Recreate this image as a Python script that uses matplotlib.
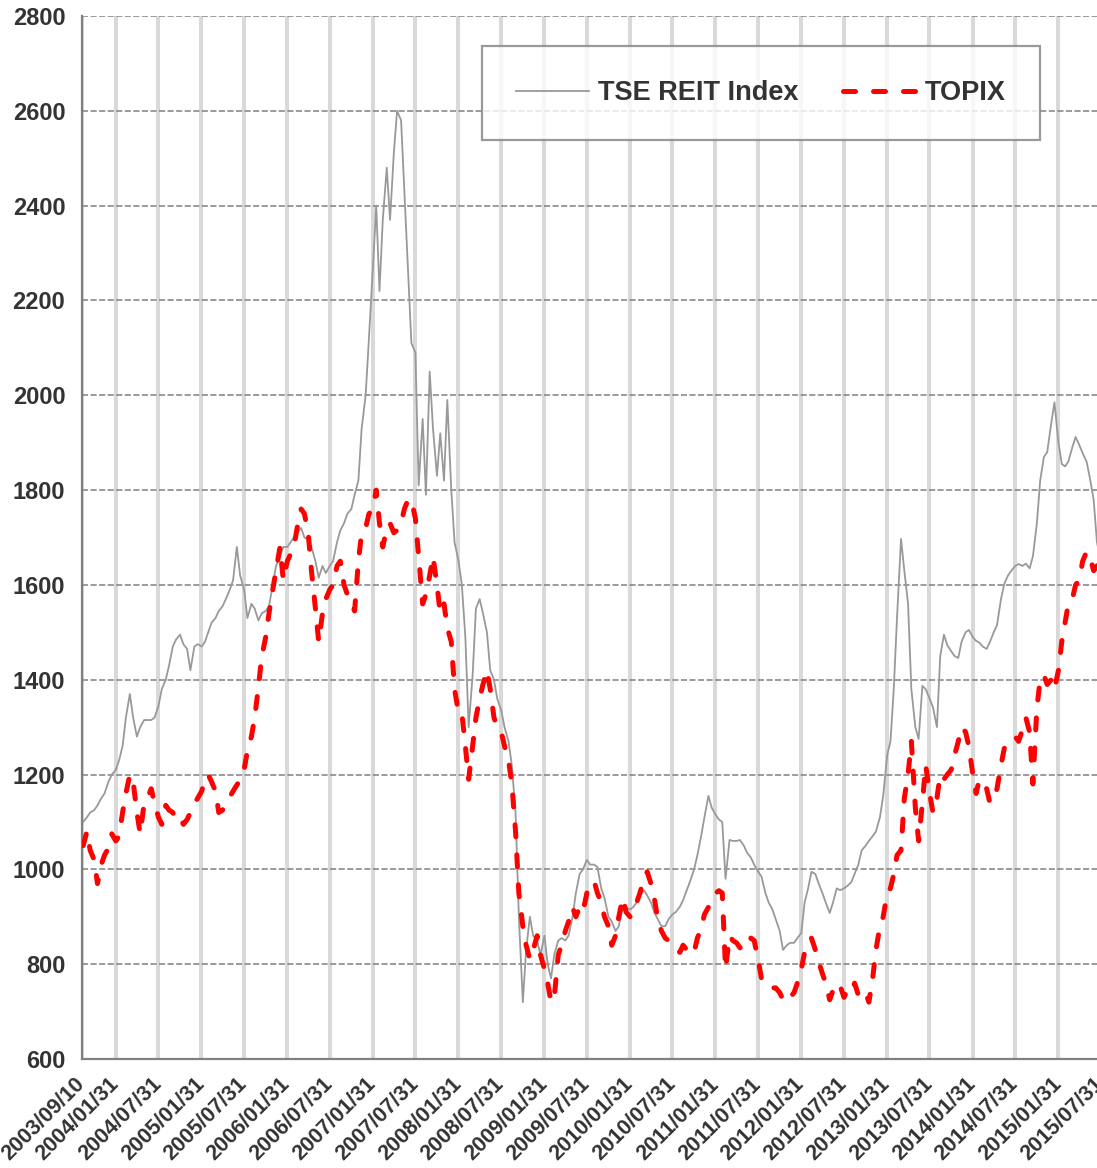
import matplotlib
matplotlib.use("Agg")
import matplotlib.pyplot as plt
import pandas as pd

# semi-monthly readings (1st and 15th of each month)
reit_2003 = [1100, 1110, 1120, 1125, 1135, 1150, 1160]
reit_2004 = [1185, 1200, 1210, 1230, 1260, 1320, 1370, 1320, 1280, 1300, 1315, 1315,
             1315, 1320, 1345, 1380, 1400, 1430, 1470, 1485, 1495, 1475, 1465, 1420]
reit_2005 = [1470, 1475, 1470, 1480, 1500, 1520, 1530, 1545, 1555, 1570, 1590, 1610,
             1680, 1620, 1590, 1530, 1560, 1550, 1525, 1540, 1545, 1555, 1600, 1640]
reit_2006 = [1660, 1680, 1680, 1690, 1700, 1710, 1720, 1700, 1695, 1680, 1650, 1615,
             1640, 1625, 1640, 1650, 1690, 1715, 1730, 1750, 1760, 1790, 1820, 1930]
reit_2007 = [2000, 2120, 2270, 2400, 2220, 2370, 2480, 2370, 2510, 2600, 2580, 2430,
             2260, 2110, 2090, 1810, 1950, 1790, 2050, 1930, 1830, 1920, 1820, 1990]
reit_2008 = [1800, 1690, 1650, 1600, 1490, 1300, 1410, 1550, 1570, 1540, 1500, 1420,
             1400, 1360, 1335, 1300, 1270, 1220, 1120, 900, 720, 830, 900, 860]
reit_2009 = [850, 820, 860, 800, 770, 820, 850, 855, 850, 860, 900, 950,
             990, 1000, 1020, 1010, 1010, 1005, 960, 940, 900, 890, 870, 880]
reit_2010 = [920, 920, 915, 921, 930, 945, 956, 945, 930, 910, 893, 880,
             880, 895, 905, 910, 921, 935, 956, 975, 1000, 1030, 1070, 1110]
reit_2011 = [1155, 1130, 1115, 1105, 1100, 980, 1062, 1060, 1060, 1062, 1050, 1035,
             1025, 1010, 995, 985, 950, 930, 915, 895, 870, 830, 840, 845]
reit_2012 = [845, 855, 866, 930, 960, 995, 990, 970, 950, 930, 908, 930,
             960, 956, 960, 965, 973, 990, 1010, 1040, 1050, 1060, 1070, 1080]
reit_2013 = [1110, 1155, 1241, 1270, 1380, 1532, 1697, 1630, 1560, 1380, 1300, 1275,
             1387, 1380, 1360, 1342, 1300, 1450, 1495, 1473, 1460, 1450, 1446, 1480]
reit_2014 = [1500, 1505, 1490, 1482, 1478, 1470, 1465, 1480, 1500, 1515, 1570, 1602,
             1620, 1630, 1640, 1644, 1640, 1645, 1635, 1660, 1730, 1820, 1870, 1880]
reit_2015 = [1940, 1985, 1900, 1855, 1850, 1860, 1890, 1912, 1895, 1878, 1860, 1825,
             1780, 1690, 1650]

topix_2003 = [1050, 1080, 1040, 1020, 970, 1010, 1030]
topix_2004 = [1045, 1075, 1060, 1070, 1120, 1160, 1200, 1185, 1120, 1075, 1140, 1150,
              1170, 1140, 1110, 1095, 1135, 1125, 1120, 1105, 1110, 1095, 1105, 1120]
topix_2005 = [1140, 1150, 1165, 1188, 1200, 1185, 1165, 1120, 1125, 1140, 1153, 1165,
              1178, 1188, 1210, 1250, 1280, 1320, 1385, 1448, 1490, 1540, 1590, 1630]
topix_2006 = [1680, 1610, 1650, 1665, 1680, 1720, 1760, 1750, 1710, 1630, 1550, 1480,
              1540, 1570, 1590, 1600, 1640, 1650, 1600, 1580, 1560, 1545, 1650, 1710]
topix_2007 = [1720, 1750, 1760, 1800, 1730, 1680, 1720, 1730, 1710, 1715, 1730, 1760,
              1780, 1780, 1740, 1660, 1560, 1580, 1620, 1660, 1600, 1540, 1560, 1510]
topix_2008 = [1480, 1380, 1330, 1330, 1260, 1190, 1260, 1320, 1360, 1390, 1420, 1380,
              1320, 1300, 1290, 1260, 1230, 1180, 1080, 950, 880, 840, 810, 830]
topix_2009 = [860, 820, 790, 760, 720, 730, 820, 840, 870, 890, 920, 900,
              920, 910, 950, 960, 975, 950, 930, 900, 880, 840, 860, 900]
topix_2010 = [940, 910, 900, 910, 930, 950, 980, 995, 970, 940, 890, 870,
              855, 850, 840, 830, 825, 840, 830, 820, 825, 855, 875, 905]
topix_2011 = [920, 930, 950, 955, 950, 790, 860, 850, 845, 835, 830, 845,
              855, 850, 810, 770, 760, 750, 750, 750, 740, 725, 720, 730]
topix_2012 = [740, 760, 790, 825, 845, 855, 830, 805, 780, 760, 725, 745,
              760, 755, 730, 745, 740, 760, 735, 730, 740, 720, 770, 830]
topix_2013 = [880, 900, 950, 960, 990, 1030, 1040, 1150, 1200, 1270, 1130, 1060,
              1140, 1220, 1160, 1120, 1150, 1200, 1190, 1200, 1210, 1240, 1270, 1300]
topix_2014 = [1290, 1260, 1200, 1160, 1190, 1180, 1170, 1140, 1150, 1170, 1220, 1255,
              1265, 1275, 1280, 1270, 1295, 1320, 1290, 1180, 1340, 1400, 1410, 1390]
topix_2015 = [1400, 1380, 1420, 1480, 1520, 1560, 1570, 1600, 1610, 1650, 1670, 1660,
              1630, 1640, 1660]

tick_labels = ["2003/09/10", "2004/01/31", "2004/07/31", "2005/01/31", "2005/07/31",
               "2006/01/31", "2006/07/31", "2007/01/31", "2007/07/31", "2008/01/31",
               "2008/07/31", "2009/01/31", "2009/07/31", "2010/01/31", "2010/07/31",
               "2011/01/31", "2011/07/31", "2012/01/31", "2012/07/31", "2013/01/31",
               "2013/07/31", "2014/01/31", "2014/07/31", "2015/01/31", "2015/07/31"]

reit = (reit_2003 + reit_2004 + reit_2005 + reit_2006 + reit_2007 + reit_2008 + reit_2009
        + reit_2010 + reit_2011 + reit_2012 + reit_2013 + reit_2014 + reit_2015)
topix = (topix_2003 + topix_2004 + topix_2005 + topix_2006 + topix_2007 + topix_2008
         + topix_2009 + topix_2010 + topix_2011 + topix_2012 + topix_2013 + topix_2014
         + topix_2015)
dates = pd.date_range("2003-09-15", periods=len(reit), freq="SMS")

txt = "#333333"
fig = plt.figure(figsize=(10.97, 11.68), dpi=100)
ax = fig.add_axes([82 / 1097, 109 / 1168, 1033 / 1097, 1043 / 1168])

ax.plot(dates, reit, color="#999999", lw=1.3, label="TSE REIT Index", zorder=3)
ax.plot(dates, topix, color="#ff0000", lw=3.6, dashes=(2.4, 3.6),
        dash_capstyle="round", label="TOPIX", zorder=4)

ax.set_xlim(pd.Timestamp("2003-09-10"), pd.Timestamp("2015-09-30"))
ax.set_ylim(600, 2800)
ax.set_yticks(range(600, 2801, 200))
ticks = [pd.Timestamp(t.replace("/", "-")) for t in tick_labels]
ax.set_xticks(ticks)
ax.set_xticklabels(tick_labels, rotation=45, ha="right", va="center",
                   rotation_mode="anchor")

ax.grid(axis="x", color="#d9d9d9", lw=2.9, zorder=0)
ax.grid(axis="y", color="#808080", lw=1.1, ls=(0, (4, 1.6)), zorder=1)
for s in ["top", "right"]:
    ax.spines[s].set_visible(False)
for s in ["left", "bottom"]:
    ax.spines[s].set_color("#808080")
    ax.spines[s].set_linewidth(1.6)
    ax.spines[s].set_zorder(2)

ax.tick_params(axis="both", length=0, colors=txt)
ax.tick_params(axis="y", pad=12)
ax.tick_params(axis="x", pad=16)
for lab in ax.get_yticklabels():
    lab.set_fontfamily("Liberation Sans")
    lab.set_fontweight("bold")
    lab.set_fontsize(17)
for lab in ax.get_xticklabels():
    lab.set_fontfamily("Liberation Sans")
    lab.set_fontweight("bold")
    lab.set_fontsize(15.5)

leg = ax.legend(loc="center", bbox_to_anchor=(761 / 1097, 1 - 93 / 1168),
                bbox_transform=fig.transFigure, ncol=2, frameon=True, fancybox=False,
                handlelength=2.7, handletextpad=0.33, columnspacing=1.65,
                borderpad=1.25, prop={"family": "Liberation Sans", "weight": "bold", "size": 19.5})
leg.get_frame().set_edgecolor("#808080")
leg.get_frame().set_linewidth(1.6)
for t in leg.get_texts():
    t.set_color(txt)

fig.savefig("out.png", dpi=100)
